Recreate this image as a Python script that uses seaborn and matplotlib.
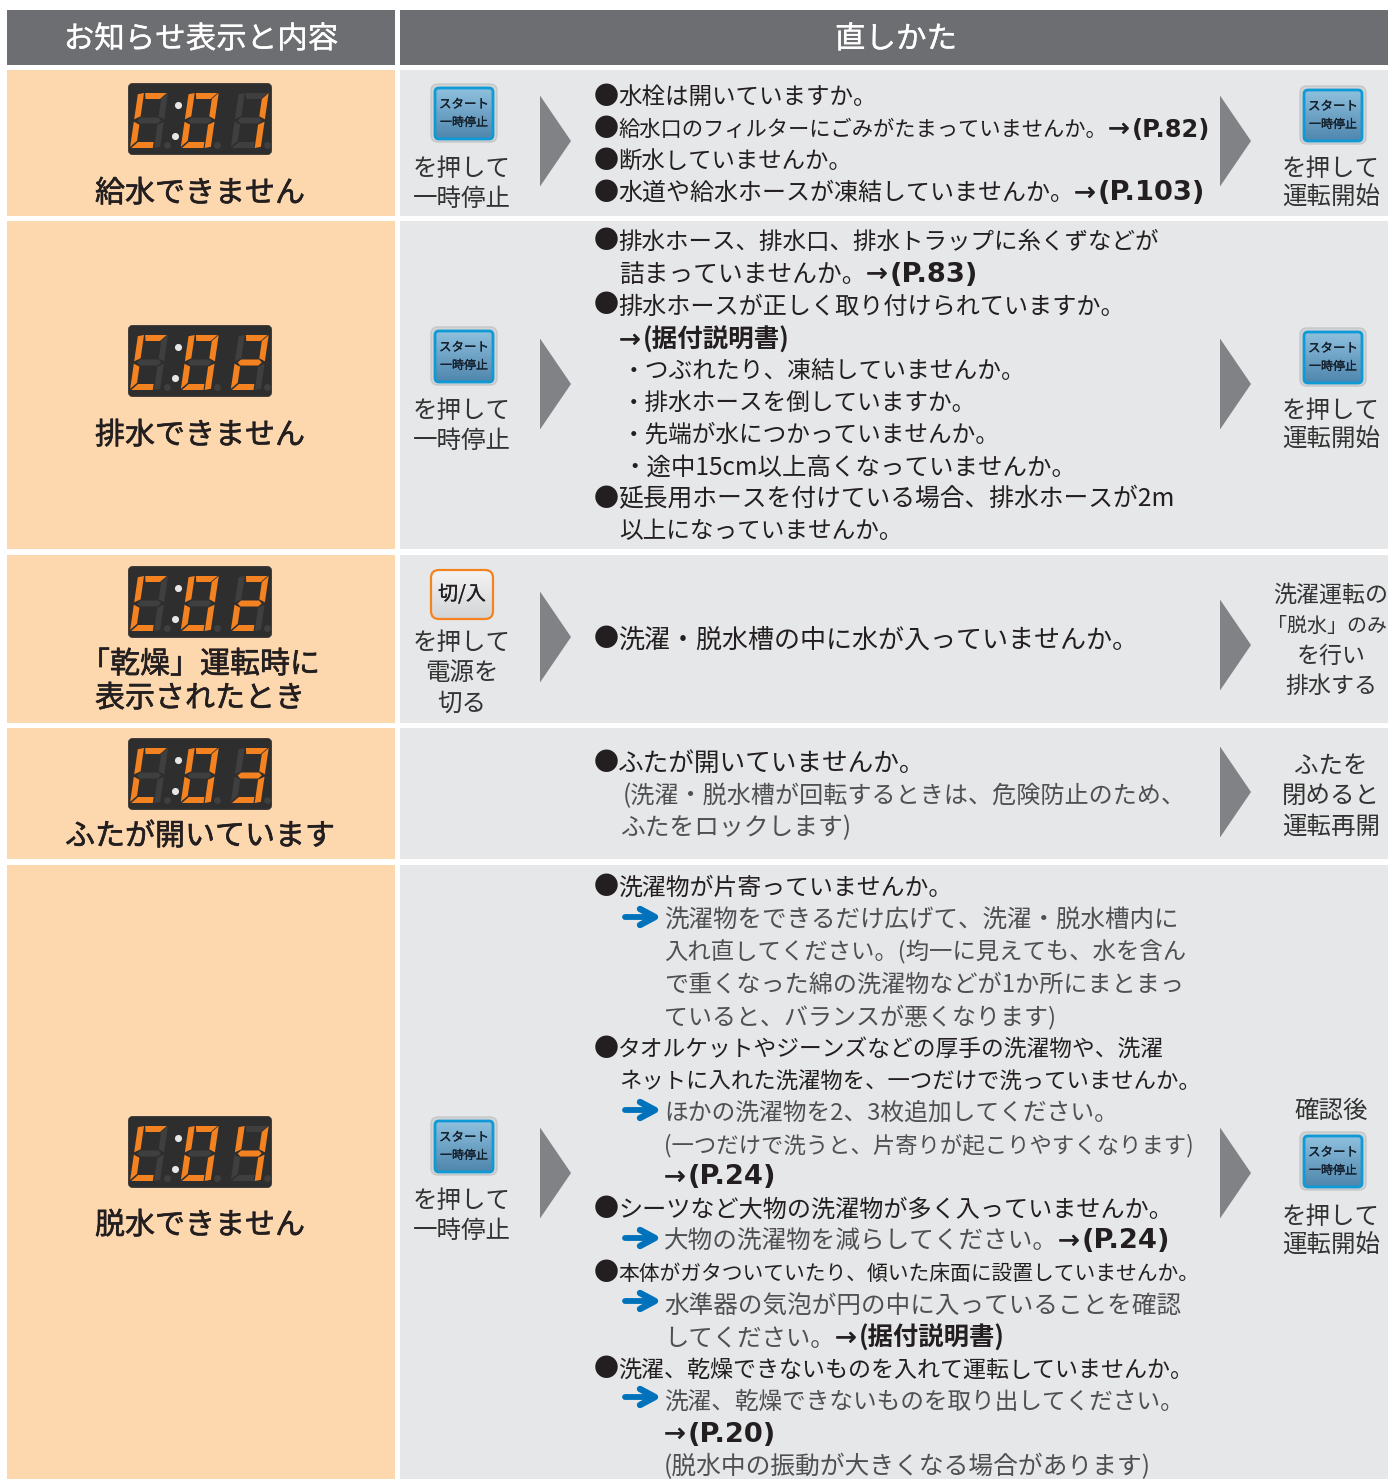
import numpy as np
import pandas as pd
import matplotlib.pyplot as plt
import matplotlib.patheffects as pe
import seaborn as sns
from matplotlib.patches import Rectangle, Polygon, FancyBboxPatch

# 1. Table texts
header_titles = ["お知らせ表示と内容", "直しかた"]
display_codes = ["C:01", "C:02", "C:02", "C:03", "C:04"]
row_labels = [["給水できません"], ["排水できません"], ["「乾燥」運転時に", "表示されたとき"],
              ["ふたが開いています"], ["脱水できません"]]
left_captions = [["を押して", "一時停止"], ["を押して", "一時停止"], ["を押して", "電源を", "切る"],
                 [], ["を押して", "一時停止"]]
right_captions = [["を押して", "運転開始"], ["を押して", "運転開始"],
                  ["洗濯運転の", "「脱水」のみ", "を行い", "排水する"],
                  ["ふたを", "閉めると", "運転再開"], ["確認後", "を押して", "運転開始"]]
start_label = ["スタート", "一時停止"]
power_label = "切/入"

# (normal text, bold text, colour key)
guide_lines = [
    ("●水栓は開いていますか。", "", "k"),
    ("●給水口のフィルターにごみがたまっていませんか。", "→(P.82)", "k"),
    ("●断水していませんか。", "", "k"),
    ("●水道や給水ホースが凍結していませんか。", "→(P.103)", "k"),
    ("●排水ホース、排水口、排水トラップに糸くずなどが", "", "k"),
    ("詰まっていませんか。", "→(P.83)", "k"),
    ("●排水ホースが正しく取り付けられていますか。", "", "k"),
    ("", "→(据付説明書)", "k"),
    ("・つぶれたり、凍結していませんか。", "", "k"),
    ("・排水ホースを倒していますか。", "", "k"),
    ("・先端が水につかっていませんか。", "", "k"),
    ("・途中15cm以上高くなっていませんか。", "", "k"),
    ("●延長用ホースを付けている場合、排水ホースが2m", "", "k"),
    ("以上になっていませんか。", "", "k"),
    ("●洗濯・脱水槽の中に水が入っていませんか。", "", "k"),
    ("●ふたが開いていませんか。", "", "k"),
    ("(洗濯・脱水槽が回転するときは、危険防止のため、", "", "g"),
    ("ふたをロックします)", "", "g"),
    ("●洗濯物が片寄っていませんか。", "", "k"),
    ("洗濯物をできるだけ広げて、洗濯・脱水槽内に", "", "g"),
    ("入れ直してください。(均一に見えても、水を含ん", "", "g"),
    ("で重くなった綿の洗濯物などが1か所にまとまっ", "", "g"),
    ("ていると、バランスが悪くなります)", "", "g"),
    ("●タオルケットやジーンズなどの厚手の洗濯物や、洗濯", "", "k"),
    ("ネットに入れた洗濯物を、一つだけで洗っていませんか。", "", "k"),
    ("ほかの洗濯物を2、3枚追加してください。", "", "g"),
    ("(一つだけで洗うと、片寄りが起こりやすくなります)", "", "g"),
    ("", "→(P.24)", "k"),
    ("●シーツなど大物の洗濯物が多く入っていませんか。", "", "k"),
    ("大物の洗濯物を減らしてください。", "→(P.24)", "g"),
    ("●本体がガタついていたり、傾いた床面に設置していませんか。", "", "k"),
    ("水準器の気泡が円の中に入っていることを確認", "", "g"),
    ("してください。", "→(据付説明書)", "g"),
    ("●洗濯、乾燥できないものを入れて運転していませんか。", "", "k"),
    ("洗濯、乾燥できないものを取り出してください。", "", "g"),
    ("", "→(P.20)", "k"),
    ("(脱水中の振動が大きくなる場合があります)", "", "g"),
]

# 2. Layout in pixels (x start, y centre, x end of normal run, x end of bold run)
line_x = [594, 594, 594, 594, 594, 619, 594, 619, 622, 622, 622, 622, 594, 619, 594, 594, 623, 621,
          594, 664, 664, 664, 664, 594, 619, 664, 664, 664, 594, 664, 594, 664, 664, 594, 664, 664, 664]
line_y = [95, 127, 159, 191, 240, 272, 304, 338, 369, 401, 433, 465, 497, 529, 638, 761, 794, 826,
          886, 918, 950, 982, 1014, 1047, 1079, 1111, 1143, 1175, 1207, 1239, 1271, 1304, 1336,
          1368, 1400, 1432, 1464]
line_end = [877, 1108, 852, 1074, 1159, 866, 1124, 619, 1025, 976, 1000, 1076, 1176, 903, 1139, 926,
            1185, 852, 952, 1179, 1187, 1183, 1056, 1164, 1200, 1118, 1193, 664, 1173, 1058, 1200,
            1180, 835, 1194, 1184, 664, 1151]
bold_end = {1: 1210, 3: 1206, 5: 980, 7: 790, 27: 778, 29: 1173, 32: 1005, 35: 778}

row_top = [70, 221, 555, 728, 865]
row_bottom = [216, 549, 723, 859, 1485]
display_top = [83, 325, 566, 738, 1116]
label_y = [[190], [432], [661, 695], [833], [1222]]
left_caption_y = [[166, 196], [408, 438], [641, 671, 701], [], [1198, 1228]]
right_caption_y = [[166, 195], [409, 437], [593, 624, 654, 684], [763, 793, 824], [1109, 1215, 1243]]
left_tri_mid = [141, 384, 637, None, 1173]
right_tri_mid = [141, 384, 645, 792, 1173]
start_buttons = [(464, 113), (1333, 115), (464, 356), (1333, 357), (464, 1146), (1333, 1161)]
arrow_y = [917, 1110, 1238, 1301, 1397]

DARK = "#231f20"
GRAY = "#505052"
FONT = ["Noto Sans CJK JP", "DejaVu Sans"]
SEGMENTS = {"C": "adef", "0": "abcdef", "1": "bc", "2": "abged", "3": "abgcd", "4": "fgbc"}
TEXT_SHIFT = 2.5

sns.set_theme(style="white")
plt.rcParams["font.family"] = FONT

fig = plt.figure(figsize=(13.88, 14.79), dpi=100)
ax = fig.add_axes([0, 0, 1, 1])
ax.set_xlim(0, 1388)
ax.set_ylim(1479, 0)
ax.axis("off")
sns.despine(ax=ax, left=True, bottom=True)
renderer = fig.canvas.get_renderer()


def px(size):
    return size * 0.72


def heavy(width, color):
    return [pe.withStroke(linewidth=width, foreground=color)]


def fit_text(x, y, s, x_end, size=24.0, **kw):
    # shrink or grow the font a bit so the line ends where it does in the original
    t = ax.text(x, y + TEXT_SHIFT, s, fontsize=px(size), ha="left", va="center", zorder=5, **kw)
    width = t.get_window_extent(renderer).width
    ratio = np.clip((x_end - x) / width, 0.85, 1.12)
    t.set_fontsize(px(size) * ratio)
    return t


def center_text(x, y, s, size, color=DARK, **kw):
    ax.text(x, y + TEXT_SHIFT, s, fontsize=px(size), ha="center", va="center", color=color, zorder=5, **kw)


def draw_digit(x0, y0, ch):
    w, h, t, skew = 30.0, 55.0, 6.0, 8.0
    g = 1.2
    m = h / 2
    shapes = {
        "a": [(t + g, 0), (w - g, 0), (w - t - g, t), (t + 2 * g, t)],
        "d": [(t + g, h - t), (w - t - g, h - t), (w - t - g, h), (g, h)],
        "g": [(t, m - t / 2), (w - t, m - t / 2), (w - t / 2, m), (w - t, m + t / 2), (t, m + t / 2), (t / 2, m)],
        "f": [(0, g), (t, 0), (t, m - t / 2 - g), (0, m - g)],
        "e": [(0, m + g), (t, m + t / 2 + g), (t, h - t - g), (0, h - g)],
        "b": [(w, 0), (w, m - g), (w - t, m - t / 2 - g), (w - t, t)],
        "c": [(w, m + g), (w, h - g), (w - t, h), (w - t, m + t / 2 + g)],
    }
    for name, pts in shapes.items():
        on = name in SEGMENTS[ch]
        sheared = [(x0 + sx + skew * (1 - sy / h), y0 + sy) for sx, sy in pts]
        ax.add_patch(Polygon(sheared, closed=True, color="#f58220" if on else "#3f3f40", lw=0, zorder=4))


def draw_display(top, code):
    ax.add_patch(FancyBboxPatch((129.5, top + 1.5), 141, 69, boxstyle="round,pad=0,rounding_size=3",
                                fc="#2f2e2f", ec="#2f2e2f", lw=2, zorder=3))
    chars = [c for c in code if c != ":"]
    for ch, off in zip(chars, [2, 52.7, 102.7]):
        draw_digit(128 + off, top + 10, ch)
    # colon and decimal dots
    dots = pd.DataFrame({"x": [178.3, 175], "y": [top + 21.7, top + 52.7]})
    sns.scatterplot(data=dots, x="x", y="y", ax=ax, s=26, color="#e6e6e6", linewidth=0, zorder=5, legend=False)
    dark_dots = pd.DataFrame({"x": [166.7, 216.7, 266.7], "y": [top + 61.7] * 3})
    sns.scatterplot(data=dark_dots, x="x", y="y", ax=ax, s=24, color="#3f3f40", linewidth=0, zorder=4, legend=False)


def gradient_box(x, y, w, h, top_col, bot_col, radius, edge, lw, z):
    box = FancyBboxPatch((x, y), w, h, boxstyle=f"round,pad=0,rounding_size={radius}",
                         fc="none", ec=edge, lw=lw, zorder=z + 1)
    ax.add_patch(box)
    c1 = np.array(plt.matplotlib.colors.to_rgb(top_col))
    c2 = np.array(plt.matplotlib.colors.to_rgb(bot_col))
    grad = np.linspace(0, 1, 64)[:, None, None] * (c2 - c1) + c1
    im = ax.imshow(grad, extent=(x, x + w, y + h, y), aspect="auto", zorder=z)
    im.set_clip_path(box)


def draw_start(cx, cy):
    ax.add_patch(FancyBboxPatch((cx - 33, cy - 29), 66, 58, boxstyle="round,pad=0,rounding_size=7",
                                fc="#d1d3d4", ec="#c4c6c8", lw=1, zorder=3))
    gradient_box(cx - 29, cy - 25, 58, 51, "#8fc0de", "#4f86ad", 4, "#0e9ad6", 2.0, 4)
    center_text(cx, cy - 11, start_label[0], 12.5, color="#14202c", path_effects=heavy(0.2, "#14202c"))
    center_text(cx, cy + 7, start_label[1], 12, color="#14202c", path_effects=heavy(0.2, "#14202c"))


def draw_triangle(x, mid):
    ax.add_patch(Polygon([(x, mid - 45.5), (x + 31, mid), (x, mid + 45.5)], closed=True,
                         color="#808285", lw=0, zorder=3))


def draw_arrow(y):
    ax.plot([625, 652], [y, y], color="#0072bc", lw=4.2, solid_capstyle="round", zorder=4)
    ax.plot([640, 655, 640], [y - 8, y, y + 8], color="#0072bc", lw=4.6,
            solid_capstyle="round", solid_joinstyle="round", zorder=4)


# 3. Background cells
ax.add_patch(Rectangle((7, 10), 388, 55, color="#6d6e71", lw=0))
ax.add_patch(Rectangle((400, 10), 988, 55, color="#6d6e71", lw=0))
center_text(201, 37, header_titles[0], 30.5, color="white", path_effects=heavy(0.2, "white"))
center_text(896, 37, header_titles[1], 30.5, color="white", path_effects=heavy(0.2, "white"))

for i in range(5):
    top, bottom = row_top[i], row_bottom[i]
    ax.add_patch(Rectangle((7, top), 388, bottom - top, color="#fdd8ae", lw=0))
    ax.add_patch(Rectangle((400, top), 988, bottom - top, color="#e6e7e8", lw=0))
    draw_display(display_top[i], display_codes[i])
    for y, s in zip(label_y[i], row_labels[i]):
        center_text(200, y + 1, s, 30, path_effects=heavy(0.45, DARK))
    for y, s in zip(left_caption_y[i], left_captions[i]):
        center_text(462, y, s, 24.5, color="#333333")
    caption_size = 23 if i == 2 else 24.5
    for y, s in zip(right_caption_y[i], right_captions[i]):
        if s.startswith("「"):
            # has to stay inside the right edge
            ax.text(1267, y + TEXT_SHIFT, s, fontsize=px(20), ha="left", va="center", color="#333333", zorder=5)
        else:
            center_text(1331, y, s, caption_size, color="#333333")
    if left_tri_mid[i] is not None:
        draw_triangle(540, left_tri_mid[i])
    draw_triangle(1220, right_tri_mid[i])

# 4. Buttons and arrows
for cx, cy in start_buttons:
    draw_start(cx, cy)
gradient_box(431, 570, 62, 49, "#f4f4f5", "#d3d4d6", 8, "#f58220", 1.6, 4)
center_text(462, 592, power_label, 20, path_effects=heavy(0.2, DARK))
for y in arrow_y:
    draw_arrow(y)

# 5. Guidance lines
for i, (normal, bold, col) in enumerate(guide_lines):
    color = DARK if col == "k" else GRAY
    x = line_x[i]
    if normal.startswith("●"):
        ax.text(x, line_y[i] + TEXT_SHIFT - 1, "●", fontsize=px(25), ha="left", va="center", color=DARK, zorder=5)
        fit_text(x + 24, line_y[i], normal[1:], line_end[i], color=color)
    elif normal:
        fit_text(x, line_y[i], normal, line_end[i], color=color)
    if bold:
        start = line_end[i] if normal else x
        ax.text(start, line_y[i] + TEXT_SHIFT, "→", fontsize=px(26), ha="left", va="center",
                color=DARK, family="DejaVu Sans", zorder=5, path_effects=heavy(0.2, DARK))
        rest = bold[1:]
        fam = ["DejaVu Sans", "Noto Sans CJK JP"] if "P." in rest else FONT
        fit_text(start + 24, line_y[i], rest, bold_end[i], size=24.5, color=DARK, fontweight="bold", family=fam)

ax.set_xlim(0, 1388)
ax.set_ylim(1479, 0)
ax.set_xlabel("")
ax.set_ylabel("")
fig.savefig("out.png", dpi=100, facecolor="white")
